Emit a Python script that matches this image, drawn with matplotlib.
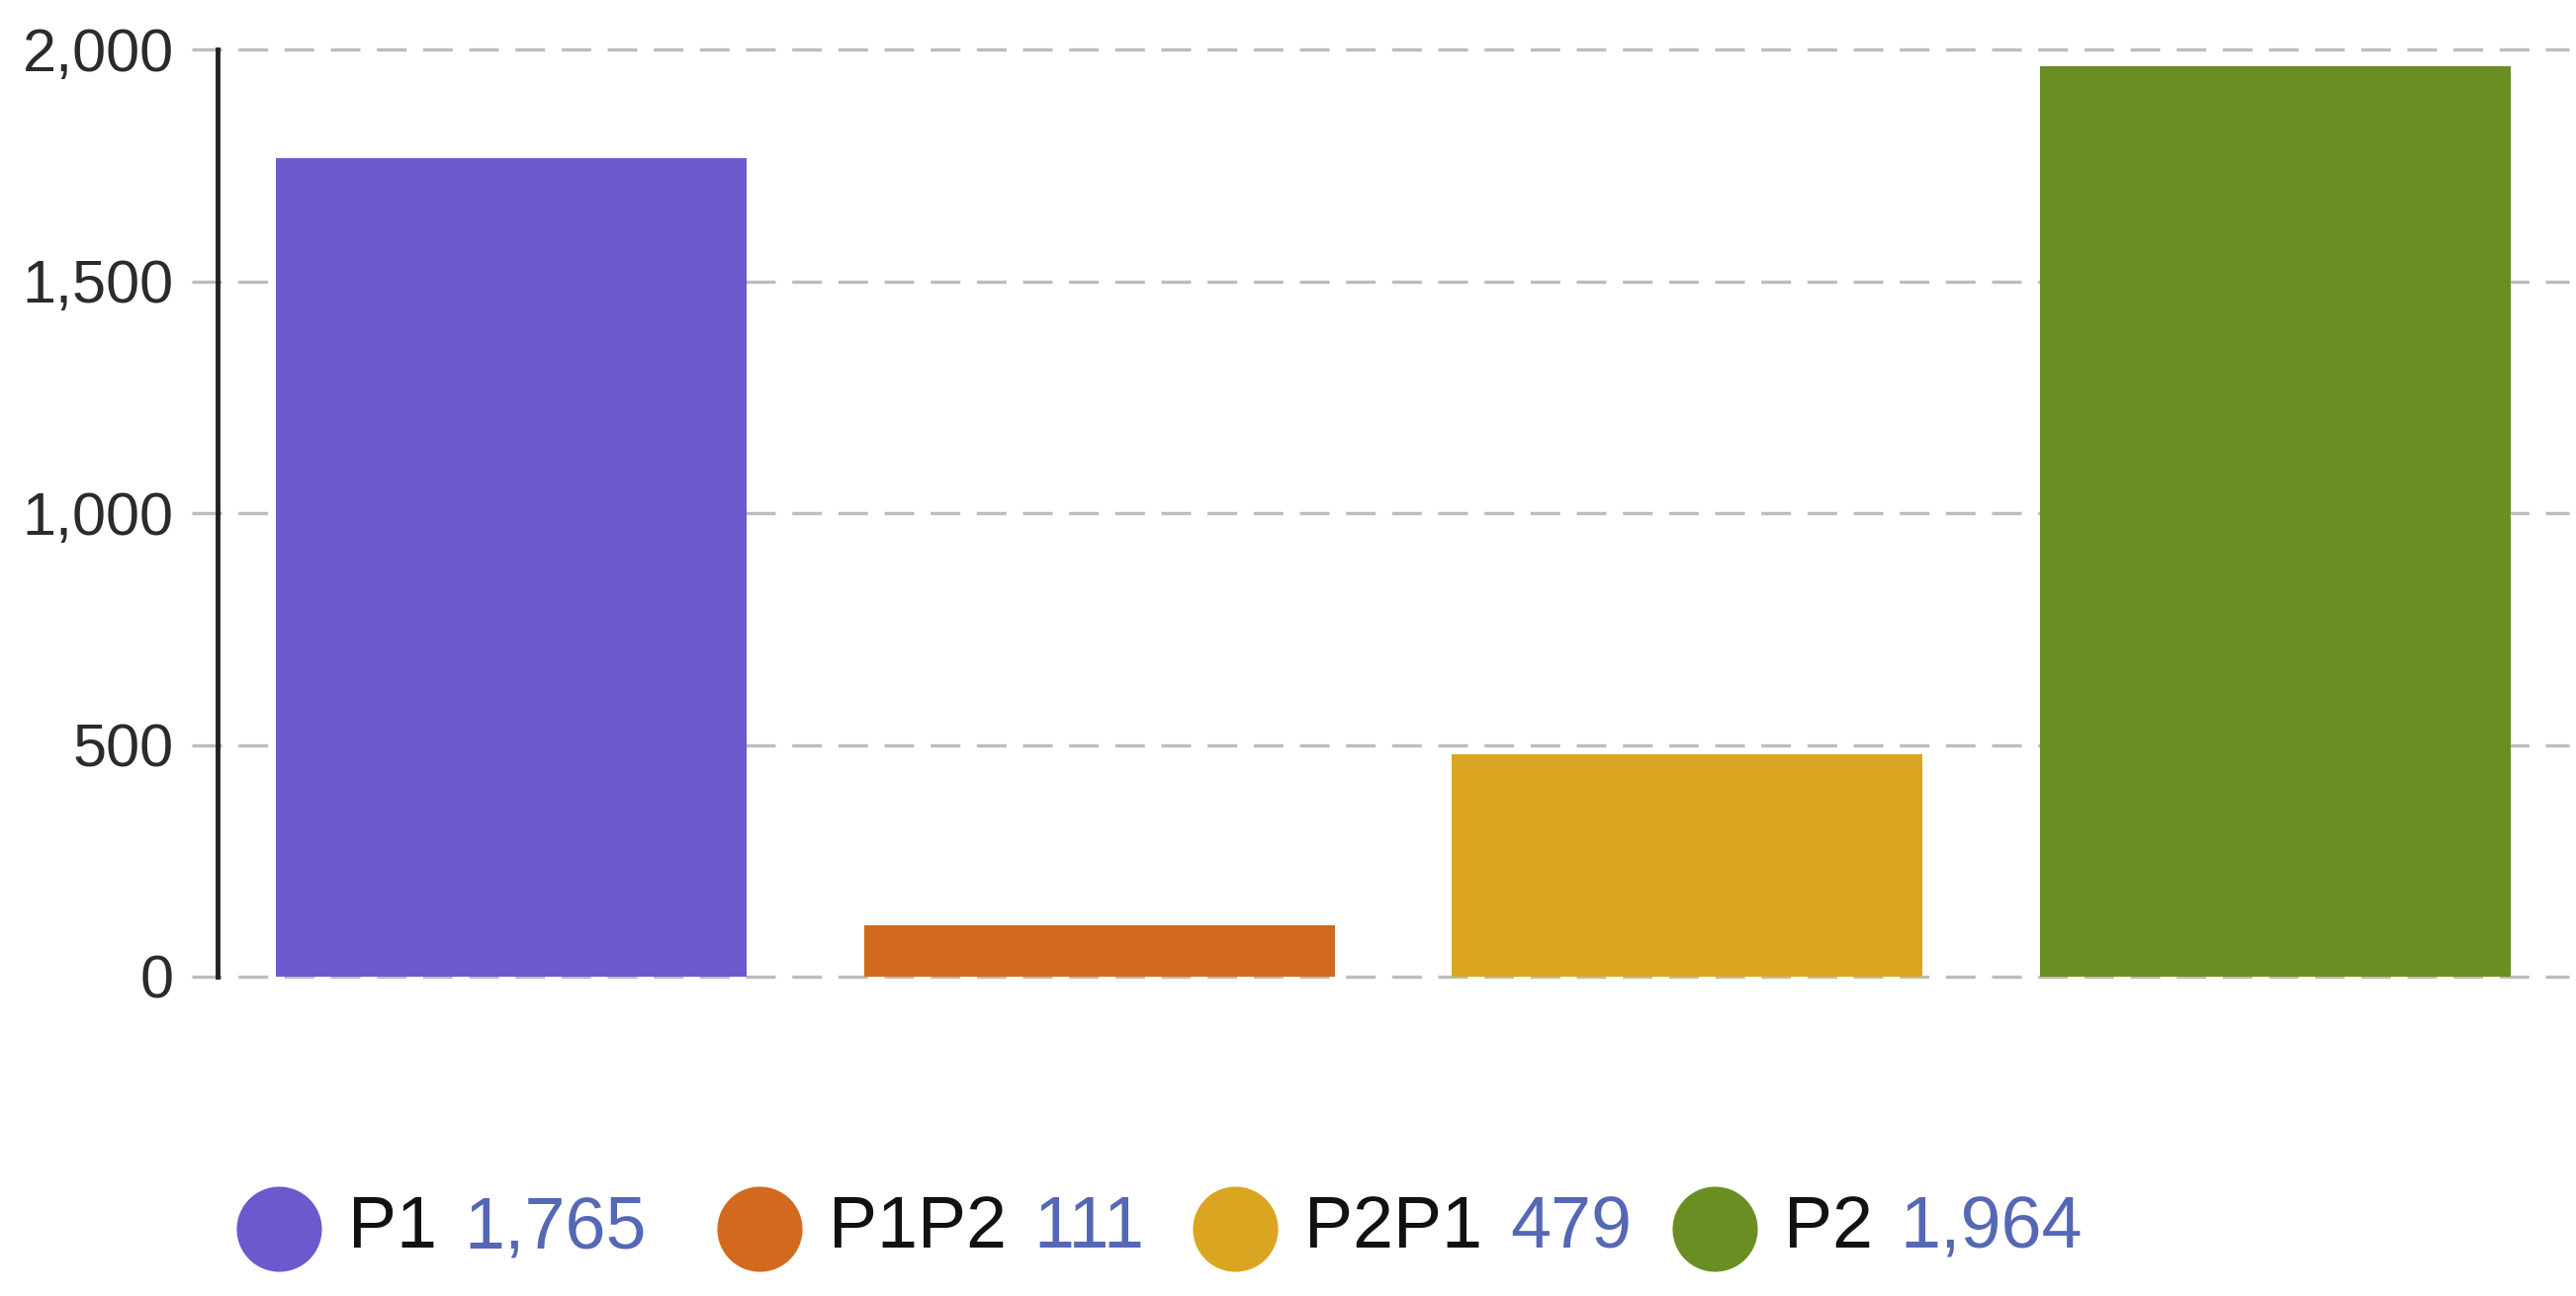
import matplotlib
matplotlib.use("Agg")
import matplotlib.pyplot as plt
from matplotlib.lines import Line2D

categories = ["P1", "P1P2", "P2P1", "P2"]
values = [1765, 111, 479, 1964]
colors = ["#6a5acd", "#d2691e", "#daa520", "#6b8e23"]
yticks = [0, 500, 1000, 1500, 2000]
ytick_labels = ["0", "500", "1,000", "1,500", "2,000"]

plt.rcParams['font.family'] = ['Liberation Sans', 'DejaVu Sans']

W, H = 2605, 1311
fig = plt.figure(figsize=(W / 100, H / 100), dpi=100)
ax = fig.add_axes([220 / W, 323 / H, (2598 - 220) / W, (1261 - 323) / H])

x = list(range(len(categories)))
ax.bar(x, values, width=0.8, color=colors, zorder=2)

for yv in yticks:
    ax.axhline(yv, xmin=-0.011, xmax=1.0, color="#bdbdbd", lw=2.4,
               dashes=(9, 5), clip_on=False, zorder=1)

ax.set_xlim(-0.5, 3.5)
ax.set_ylim(0, 2000)
ax.set_yticks(yticks)
ax.set_yticklabels(ytick_labels)
ax.set_xticks([])
ax.tick_params(axis='y', length=0, pad=32, labelsize=44, labelcolor="#2b2b2b")
for s in ["top", "right", "bottom"]:
    ax.spines[s].set_visible(False)
ax.spines["left"].set_color("#222222")
ax.spines["left"].set_linewidth(3.5)
ax.spines["left"].set_zorder(3)

# legend
legend_cx = [282, 768, 1249, 1734]
ly = (H - 1243) / H
for cx, name, val, col in zip(legend_cx, categories, values, colors):
    fig.add_artist(Line2D([cx / W], [ly], marker='o', markersize=61,
                          color=col, transform=fig.transFigure, linestyle='none'))
    t = fig.text((cx + 70) / W, ly, name, fontsize=53, color="#111111",
                 va='center', ha='left')
    ax.annotate(f"{val:,}", xy=(1, 0.5), xycoords=t, xytext=(20, 0),
                textcoords='offset points', fontsize=53, color="#5468b4",
                va='center', ha='left', annotation_clip=False)

fig.savefig("out.png", dpi=100, facecolor="white")
